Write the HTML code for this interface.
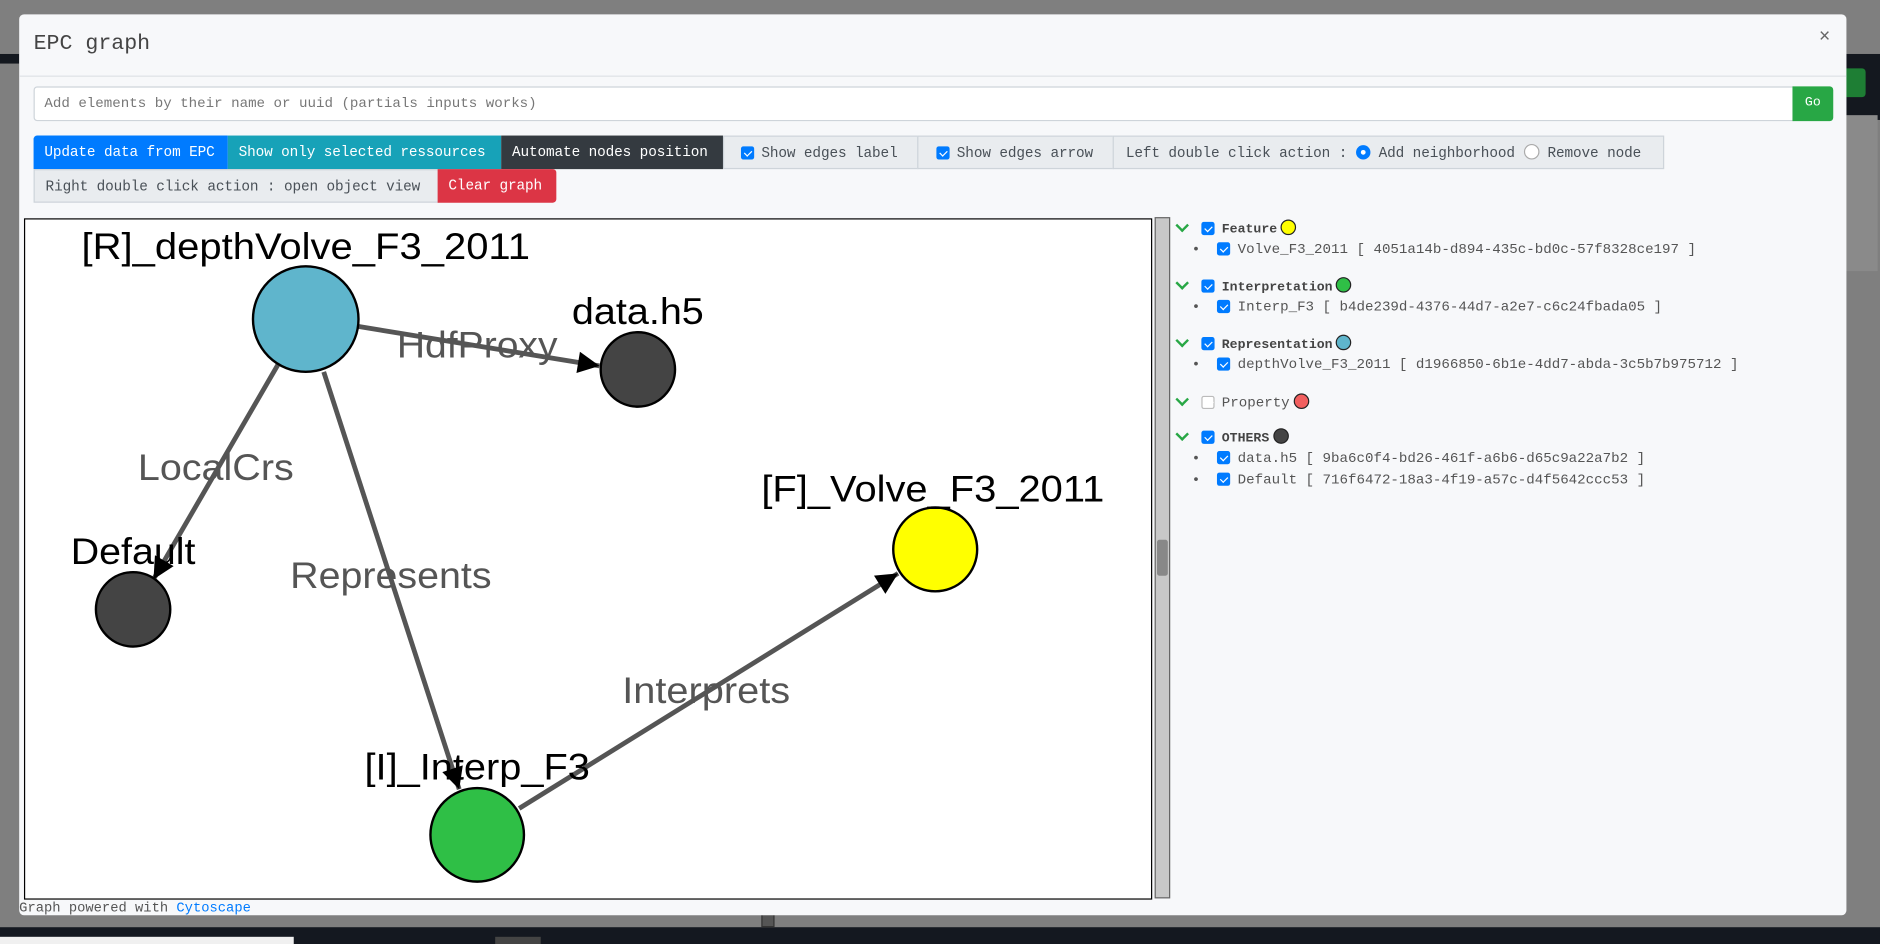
<!DOCTYPE html>
<html><head><meta charset="utf-8"><style>
html,body{margin:0;padding:0;width:1880px;height:944px;overflow:hidden;background:#7f7f7f;}
#w{position:absolute;left:0;top:0;width:1568px;height:787px;transform:scale(1.19898,1.1995);transform-origin:0 0;font-family:"Liberation Mono",monospace;}
.a{position:absolute;box-sizing:border-box;}
.btn{position:absolute;box-sizing:border-box;height:28px;line-height:28px;font-size:12px;white-space:nowrap;padding-left:9px;color:#fff;letter-spacing:-0.1px;}
.g{background:#e9ecef;border:1px solid #ced4da;color:#495057;}
.cb{display:inline-block;width:11px;height:11px;border-radius:2px;background:#007bff;vertical-align:-2px;position:relative;margin-right:6px;}
.cb:after{content:"";position:absolute;left:3.5px;top:1.5px;width:2.5px;height:5px;border:solid #fff;border-width:0 1.5px 1.5px 0;transform:rotate(45deg);}
.row{position:absolute;font-size:11.8px;white-space:nowrap;color:#555;}
.hd{font-weight:bold;color:#444;font-size:11px;}
.chev{position:absolute;width:6px;height:6px;border:solid #28a745;border-width:0 2px 2px 0;transform:rotate(45deg);}
.dot{display:inline-block;width:11px;height:11px;border-radius:50%;border:1px solid #222;vertical-align:-2px;margin-left:3px;}
</style></head><body><div id="w">
<div class="a" style="left:0;top:45px;width:16px;height:8px;background:#14181f"></div>
<div class="a" style="left:1540px;top:45px;width:28px;height:55px;background:#14181f"></div>
<div class="a" style="left:1536px;top:57px;width:20px;height:24px;background:#1e7e34;border-radius:3px"></div>
<div class="a" style="left:1540px;top:96px;width:26px;height:130px;background:#8a8a8a"></div>
<div class="a" style="left:0;top:773px;width:1568px;height:14px;background:#141820"></div>
<div class="a" style="left:0;top:781px;width:245px;height:6px;background:#f0f0f0"></div>
<div class="a" style="left:413px;top:781px;width:38px;height:6px;background:#444"></div>
<div class="a" style="left:635px;top:760px;width:11px;height:13px;background:#555;border:1px solid #333"></div>

<div class="a" style="left:16px;top:12px;width:1524px;height:751px;background:#f7f8fa;border-radius:4px"></div>
<div class="a" style="left:28px;top:27px;font-size:18px;color:#444">EPC graph</div>
<div class="a" style="left:1517px;top:22px;font-size:16px;color:#666">×</div>
<div class="a" style="left:16px;top:63px;width:1524px;height:1px;background:#dee2e6"></div>
<div class="a" style="left:28px;top:72px;width:1468px;height:29px;background:#fff;border:1px solid #ced4da;border-radius:3px 0 0 3px;font-size:11.8px;color:#777;line-height:27px;padding-left:8px">Add elements by their name or uuid (partials inputs works)</div>
<div class="a" style="left:1495px;top:72px;width:34px;height:29px;background:#28a745;border-radius:0 3px 3px 0;color:#fff;font-size:11px;line-height:29px;text-align:center">Go</div>

<div class="btn" style="left:28px;top:113px;width:162px;background:#007bff;border-radius:3px 0 0 0">Update data from EPC</div>
<div class="btn" style="left:190px;top:113px;width:228px;background:#17a2b8">Show only selected ressources</div>
<div class="btn" style="left:418px;top:113px;width:185px;background:#343a40">Automate nodes position</div>
<div class="btn g" style="left:603px;top:113px;width:163px;padding-left:14px"><span class="cb"></span>Show edges label</div>
<div class="btn g" style="left:765px;top:113px;width:164px;padding-left:15px"><span class="cb"></span>Show edges arrow</div>
<div class="btn g" style="left:928px;top:113px;width:460px;padding-left:10px">Left double click action : <span style="display:inline-block;width:12px;height:12px;border-radius:50%;background:#007bff;vertical-align:-2px;position:relative"><span style="position:absolute;left:4px;top:4px;width:4px;height:4px;border-radius:50%;background:#fff"></span></span> Add neighborhood <span style="display:inline-block;width:11px;height:11px;border-radius:50%;background:#fff;border:1px solid #aaa;vertical-align:-2px"></span> Remove node</div>
<div class="btn g" style="left:28px;top:141px;width:338px;padding-left:9px">Right double click action : open object view</div>
<div class="btn" style="left:365px;top:141px;width:99px;background:#dc3545;border-radius:0 3px 3px 0">Clear graph</div>

<div class="a" style="left:20px;top:182px;width:941px;height:568px;background:#fff;border:1px solid #000"></div>
<div class="a" style="left:963px;top:181px;width:13px;height:568px;background:#c8c8c8;border:1px solid #666"></div>
<div class="a" style="left:965px;top:450px;width:9px;height:30px;background:#888;border-radius:2px"></div>

<svg class="a" style="left:0;top:0" width="1568" height="787" viewBox="0 0 1568 787">
<defs><marker id="m" viewBox="0 0 10 10" refX="10" refY="5" markerWidth="20" markerHeight="18" markerUnits="userSpaceOnUse" orient="auto"><path d="M0,0L10,5L0,10z" fill="#000"/></marker></defs>
<g stroke="#555" stroke-width="4" fill="none">
<line x1="298" y1="272" x2="500" y2="305" marker-end="url(#m)"/>
<line x1="233" y1="302" x2="128" y2="483" marker-end="url(#m)"/>
<line x1="270" y1="310" x2="383" y2="658" marker-end="url(#m)"/>
<line x1="433" y1="674" x2="749" y2="478" marker-end="url(#m)"/>
</g>
<g font-family="Liberation Sans, Arial, sans-serif" font-size="31" text-anchor="middle">
<g fill="#555">
<text x="398" y="298" textLength="134" lengthAdjust="spacingAndGlyphs">HdfProxy</text>
<text x="180" y="400" textLength="130" lengthAdjust="spacingAndGlyphs">LocalCrs</text>
<text x="326" y="490" textLength="168" lengthAdjust="spacingAndGlyphs">Represents</text>
<text x="589" y="586" textLength="140" lengthAdjust="spacingAndGlyphs">Interprets</text>
</g>
<g stroke="#000" stroke-width="2">
<circle cx="255" cy="266" r="44" fill="#5fb5cc"/>
<circle cx="532" cy="308" r="31" fill="#444"/>
<circle cx="111" cy="508" r="31" fill="#444"/>
<circle cx="780" cy="458" r="35" fill="#ffff00"/>
<circle cx="398" cy="696" r="39" fill="#2fbf46"/>
</g>
<g fill="#000">
<text x="255" y="216" textLength="374" lengthAdjust="spacingAndGlyphs">[R]_depthVolve_F3_2011</text>
<text x="532" y="270" textLength="110" lengthAdjust="spacingAndGlyphs">data.h5</text>
<text x="111" y="470" textLength="104" lengthAdjust="spacingAndGlyphs">Default</text>
<text x="778" y="418" textLength="286" lengthAdjust="spacingAndGlyphs">[F]_Volve_F3_2011</text>
<text x="398" y="650" textLength="188" lengthAdjust="spacingAndGlyphs">[I]_Interp_F3</text>
</g></g>
</svg>

<div class="chev" style="left:982px;top:184px"></div>
<div class="row hd" style="left:1002px;top:183px"><span class="cb"></span>Feature<span class="dot" style="background:#ffff00"></span></div>
<div class="row" style="left:994px;top:201px">•&nbsp; <span class="cb"></span>Volve_F3_2011 [ 4051a14b-d894-435c-bd0c-57f8328ce197 ]</div>
<div class="chev" style="left:982px;top:232px"></div>
<div class="row hd" style="left:1002px;top:231px"><span class="cb"></span>Interpretation<span class="dot" style="background:#2fbf46"></span></div>
<div class="row" style="left:994px;top:249px">•&nbsp; <span class="cb"></span>Interp_F3 [ b4de239d-4376-44d7-a2e7-c6c24fbada05 ]</div>
<div class="chev" style="left:982px;top:280px"></div>
<div class="row hd" style="left:1002px;top:279px"><span class="cb"></span>Representation<span class="dot" style="background:#5fb5cc"></span></div>
<div class="row" style="left:994px;top:297px">•&nbsp; <span class="cb"></span>depthVolve_F3_2011 [ d1966850-6b1e-4dd7-abda-3c5b7b975712 ]</div>
<div class="chev" style="left:982px;top:329px"></div>
<div class="row" style="left:1002px;top:328px;color:#555"><span class="cb" style="background:#fff;border:1px solid #bbb;box-sizing:border-box"></span>Property<span class="dot" style="background:#f25f5f"></span></div>
<div class="chev" style="left:982px;top:358px"></div>
<div class="row hd" style="left:1002px;top:357px"><span class="cb"></span>OTHERS<span class="dot" style="background:#444"></span></div>
<div class="row" style="left:994px;top:375px">•&nbsp; <span class="cb"></span>data.h5 [ 9ba6c0f4-bd26-461f-a6b6-d65c9a22a7b2 ]</div>
<div class="row" style="left:994px;top:393px">•&nbsp; <span class="cb"></span>Default [ 716f6472-18a3-4f19-a57c-d4f5642ccc53 ]</div>

<div class="a" style="left:16px;top:751px;font-size:11.5px;color:#555;white-space:nowrap">Graph powered with <span style="color:#007bff">Cytoscape</span></div>
</div></body></html>
